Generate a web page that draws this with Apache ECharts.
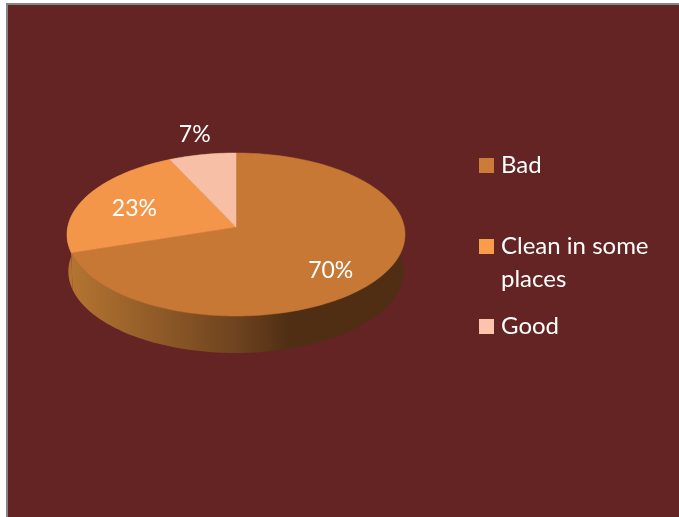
<!DOCTYPE html>
<html><head><meta charset="utf-8">
<style>html,body{margin:0;padding:0;background:#fff;overflow:hidden}#c{width:679px;height:517px}</style>
<script src="https://cdn.jsdelivr.net/npm/echarts@6/dist/echarts.min.js"></script>
</head><body><div id="c"></div>
<script>
const categories = ['Bad', 'Clean in some places', 'Good'];
const values = [70, 23, 7];
const topColors = ['#C87835', '#F4964A', '#F6BFA6'];
const legendColors = ['#CB7C38', '#F99C4B', '#FCC5AB'];
const legendTops = [149, 197, 310];
const labelRadius = [0.65, 0.62, 1.15];
const labelShift = [[3, 12], [-8, 1], [-3, -10]];

// Perspective disc geometry
const apexX = 236, apexY = 227, A = 168.3, B = 80.8, K = 0.092, DEPTH = 37, BOTTOM_SCALE = 0.992;
const FONT = 'Lato, "Open Sans", sans-serif';
const total = values.reduce((a, b) => a + b, 0);
const starts = values.map((_, i) => values.slice(0, i).reduce((a, b) => a + b, 0) / total * 360);

function project(deg, r, sx) {
  const t = deg * Math.PI / 180, u = r * Math.sin(t), v = r * Math.cos(t), w = 1 + K * v;
  return [apexX + (sx || 1) * A * u / w, apexY - B * v / w];
}
function arc(a, b, sx) {
  const pts = [], n = Math.max(2, Math.ceil((b - a) / 1.5));
  for (let i = 0; i <= n; i++) pts.push(project(a + (b - a) * i / n, 1, sx));
  return pts;
}
const sideGradient = () => new echarts.graphic.LinearGradient(72, 0, 404, 0, [
  {offset: 0, color: '#B47431'}, {offset: 0.494, color: '#6E431F'},
  {offset: 0.657, color: '#4F2E14'}, {offset: 1, color: '#4F2E14'}], true);

function makeRender(idx) {
  return function (params, api) {
    const v = api.value(0), a = starts[idx], b = a + v / total * 360;
    const rim = arc(a, b);
    const lower = arc(a, b, BOTTOM_SCALE).reverse().map(p => [p[0], p[1] + DEPTH]);
    const sidePts = rim.concat(lower);
    const topPts = [[apexX, apexY]].concat(rim);
    const mid = (a + b) / 2, lp = project(mid, labelRadius[idx]);
    return {type: 'group', children: [
      {type: 'polygon', z2: 1, shape: {points: sidePts}, style: {fill: sideGradient()}},
      {type: 'polygon', z2: 2, shape: {points: topPts}, style: {fill: topColors[idx], stroke: topColors[idx], lineWidth: 0.5}},
      {type: 'text', z2: 3, x: lp[0] + labelShift[idx][0], y: lp[1] + labelShift[idx][1],
       style: {text: v + '%', fill: '#fff', font: '23px ' + FONT, align: 'center', verticalAlign: 'middle'}}
    ]};
  };
}

const option = {
  animation: false,
  graphic: [{type: 'rect', z: -10, shape: {x: 7, y: 4, width: 700, height: 540},
    style: {fill: '#632423', stroke: '#868686', lineWidth: 2}}],
  legend: categories.map((name, i) => ({
    left: 479, top: legendTops[i], orient: 'vertical', itemWidth: 15, itemHeight: 15, itemGap: 0,
    padding: 0, selectedMode: false, icon: 'rect',
    data: [{name, itemStyle: {color: legendColors[i]}}],
    formatter: n => n === 'Clean in some places' ? '\nClean in some\nplaces' : n,
    textStyle: {color: '#fff', fontFamily: FONT, fontSize: 24, lineHeight: 33, padding: [0,0,0,2]}
  })),
  series: categories.map((name, i) => ({
    type: 'custom', name, coordinateSystem: 'none', silent: true,
    itemStyle: {color: legendColors[i]},
    renderItem: makeRender(i), data: [[values[i]]]
  }))
};
echarts.init(document.getElementById('c'), null, {renderer: 'canvas'}).setOption(option);
</script></body></html>
